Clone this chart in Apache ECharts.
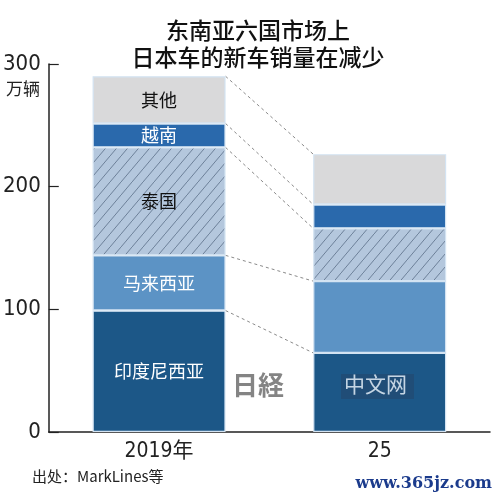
<!DOCTYPE html>
<html>
<head>
<meta charset="utf-8">
<script src="https://cdn.jsdelivr.net/npm/echarts@6/dist/echarts.min.js"></script>
<style>
  html, body { margin: 0; padding: 0; background: #fff; }
  #chart { width: 500px; height: 500px; }
</style>
</head>
<body>
<div id="chart"></div>
<script>
// 数据（万辆）
var years = ['2019年', '25'];
var indonesia = [99, 64.5];
var malaysia = [45, 58.5];
var thailand = [88, 43];
var vietnam = [19.5, 19.5];
var others = [38.5, 41];
var yTicks = [0, 100, 200, 300];

var CJK = '"Noto Sans CJK SC", sans-serif';
var NARROW = '"Liberation Sans Narrow", "DejaVu Sans Condensed", "Noto Sans CJK SC", sans-serif';
var BAR_W = 133;

// 泰国的斜线填充
var makeHatch = function() {
  var c = document.createElement('canvas');
  c.width = 11; c.height = 13;
  var ctx = c.getContext('2d');
  ctx.fillStyle = '#b4c7dd';
  ctx.fillRect(0, 0, 11, 13);
  ctx.strokeStyle = '#5a6e88';
  ctx.lineWidth = 0.8;
  ctx.beginPath();
  ctx.moveTo(0, 13); ctx.lineTo(11, 0);
  ctx.stroke();
  return c;
};

var segs = [
  { name: '印度尼西亚', data: indonesia, color: '#1c5787', text: '#fff' },
  { name: '马来西亚', data: malaysia, color: '#5c93c5', text: '#fff' },
  { name: '泰国', data: thailand, color: { image: makeHatch(), repeat: 'repeat' }, text: '#111' },
  { name: '越南', data: vietnam, color: '#2a69ac', text: '#fff' },
  { name: '其他', data: others, color: '#d9d9da', text: '#111' }
];

// 各段顶部的累计值，用于虚线连接
var tops = [];
var sum0 = 0, sum1 = 0;
segs.forEach(function(s) {
  sum0 += s.data[0];
  sum1 += s.data[1];
  tops.push([0, sum0, sum1]);
});

var series = segs.map(function(s) {
  return {
    name: s.name,
    type: 'bar',
    stack: 'total',
    barWidth: BAR_W,
    data: s.data,
    itemStyle: { color: s.color, borderColor: '#d3e3f2', borderWidth: 1.2 },
    label: {
      show: true,
      position: 'inside',
      color: s.text,
      fontSize: 18,
      fontFamily: CJK,
      formatter: function(p) { return p.dataIndex === 0 ? p.seriesName : ''; }
    },
    emphasis: { disabled: true }
  };
});

series.push({
  type: 'custom',
  silent: true,
  z: 1,
  data: tops,
  renderItem: function(params, api) {
    var a = api.coord([0, api.value(1)]);
    var b = api.coord([1, api.value(2)]);
    return {
      type: 'line',
      shape: { x1: a[0] + BAR_W / 2, y1: a[1], x2: b[0] - BAR_W / 2, y2: b[1] },
      style: { stroke: '#8a8a8a', lineWidth: 1, lineDash: [3, 3] }
    };
  }
});

var chart = echarts.init(document.getElementById('chart'));
chart.setOption({
  animation: false,
  backgroundColor: '#fff',
  title: {
    text: '东南亚六国市场上\n日本车的新车销量在减少',
    left: 253,
    textAlign: 'center',
    top: 12,
    textStyle: { fontSize: 23, fontWeight: 500, fontFamily: CJK, color: '#111', lineHeight: 27 }
  },
  grid: { left: 47, right: 10, top: 64, bottom: 68 },
  xAxis: {
    type: 'category',
    data: years,
    axisLine: { lineStyle: { color: '#222', width: 1.5 } },
    axisTick: { show: false },
    axisLabel: { fontSize: 21, fontFamily: NARROW, color: '#222', margin: 9 }
  },
  yAxis: {
    type: 'value',
    min: 0,
    max: 300,
    interval: 100,
    axisLine: { show: true, lineStyle: { color: '#222', width: 1.5 } },
    axisTick: { show: true, inside: true, length: 10, lineStyle: { color: '#222', width: 1.2 } },
    axisLabel: {
      fontSize: 22, fontFamily: NARROW, color: '#222', margin: 8,
      formatter: function(v) { return yTicks.indexOf(v) >= 0 ? String(v) : ''; }
    },
    splitLine: { show: false }
  },
  graphic: [
    { type: 'text', left: 6, top: 80, style: { text: '万辆', fontSize: 17, fontFamily: CJK, fill: '#222' } },
    { type: 'text', left: 32, top: 469, style: { text: '出处：MarkLines等', fontSize: 15, fontFamily: CJK, fill: '#222' } },
    { type: 'text', left: 232, top: 372, z: 10, style: { text: '日経', fontSize: 26, fontWeight: 'bold', fontFamily: '"Noto Sans CJK JP", serif', fill: 'rgba(110,110,110,0.85)' } },
    { type: 'rect', z: 10, shape: { x: 341, y: 374, width: 73, height: 25 }, style: { fill: 'rgba(40,60,90,0.35)' } },
    { type: 'text', left: 344, top: 374, z: 11, style: { text: '中文网', fontSize: 21, fontFamily: CJK, fill: 'rgba(215,228,240,0.9)' } },
    { type: 'text', right: 8, top: 476, style: { text: 'www.365jz.com', fontSize: 16, fontWeight: 'bold', fontFamily: '"DejaVu Serif", serif', fill: '#1b3b8c' } }
  ],
  series: series
});
</script>
</body>
</html>
